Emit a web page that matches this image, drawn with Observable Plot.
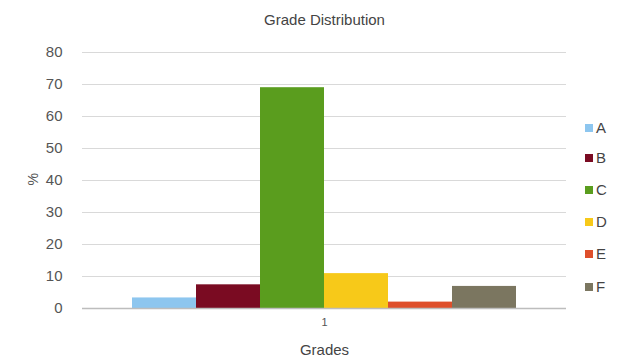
<!DOCTYPE html>
<html>
<head>
<meta charset="utf-8">
<script src="https://cdn.jsdelivr.net/npm/d3@7"></script>
<script src="https://cdn.jsdelivr.net/npm/@observablehq/plot@0.6"></script>
<style>
  html, body { margin: 0; padding: 0; background: #fff; }
  #wrap { position: relative; width: 620px; height: 360px; font-family: "Liberation Sans", Arial, sans-serif; }
  .leg { position: absolute; left: 585px; font-size: 15px; color: #444; line-height: 16px; display: flex; align-items: center; }
  .sw { width: 8px; height: 8px; margin-right: 3px; }
</style>
</head>
<body>
<div id="wrap"></div>
<script>
const grades = ["A", "B", "C", "D", "E", "F"];
const values = [3.3, 7.4, 69, 10.9, 2, 6.9];
const colors = ["#8dc6ef", "#7a0b22", "#5a9d1e", "#f7c919", "#de4f2b", "#7b7660"];
const group = "1";
const yTicks = [0, 10, 20, 30, 40, 50, 60, 70, 80];
const title = "Grade Distribution";
const xLabel = "Grades";
const yLabel = "%";

const data = grades.map((g, i) => ({grade: g, value: values[i], group}));

const chart = Plot.plot({
  width: 620,
  height: 360,
  marginLeft: 82,
  marginRight: 54,
  marginTop: 52,
  marginBottom: 52,
  style: {fontFamily: "Liberation Sans, Arial, sans-serif", fontSize: "14px", color: "#555", background: "#fff"},
  fx: {domain: [group], padding: 0, axis: null},
  x: {domain: grades, axis: null, paddingInner: 0, paddingOuter: 0.76},
  y: {domain: [0, 80], axis: null},
  color: {domain: grades, range: colors},
  marks: [
    Plot.gridY(yTicks, {stroke: "#d9d9d9", strokeOpacity: 1}),
    Plot.axisY(yTicks, {tickSize: 0, tickPadding: 20, fontSize: 15, label: null}),
    Plot.barY(data, {fx: "group", x: "grade", y: "value", fill: "grade", inset: 0}),
    Plot.ruleY([0], {stroke: "#bdbdbd", strokeWidth: 1.5}),
    Plot.axisFx([group], {anchor: "bottom", tickSize: 0, tickPadding: 10, fontSize: 11, label: null}),
    Plot.text([title], {frameAnchor: "top", lineAnchor: "middle", dy: -32, fontSize: 15, fill: "#444"}),
    Plot.text([xLabel], {frameAnchor: "bottom", lineAnchor: "middle", dy: 42, fontSize: 15, fill: "#444"}),
    Plot.text([yLabel], {frameAnchor: "left", lineAnchor: "middle", dx: -49, dy: 5, rotate: -90, fontSize: 14, fill: "#555"})
  ]
});
const wrap = document.getElementById("wrap");
wrap.appendChild(chart);

const legTops = [128, 158, 190, 222, 254, 287];
grades.forEach((g, i) => {
  const d = document.createElement("div");
  d.className = "leg";
  d.style.top = (legTops[i] - 8) + "px";
  d.innerHTML = `<span class="sw" style="background:${colors[i]}"></span><span>${g}</span>`;
  wrap.appendChild(d);
});
</script>
</body>
</html>
